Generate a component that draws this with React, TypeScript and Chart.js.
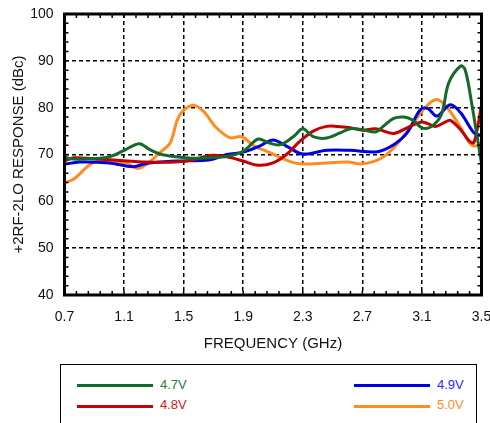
import React, { useEffect, useRef } from "react";
import { Chart, registerables } from "chart.js";

Chart.register(...registerables);

// ---- data ----
const X_TICKS = [0.7, 1.1, 1.5, 1.9, 2.3, 2.7, 3.1, 3.5];
const Y_TICKS = [40, 50, 60, 70, 80, 90, 100];

const FREQ_47 = [0.70, 0.73, 0.89, 1.00, 1.09, 1.20, 1.27, 1.34, 1.45, 1.56, 1.68, 1.79, 1.90, 2.00, 2.07, 2.15, 2.24, 2.30, 2.37, 2.46, 2.55, 2.62, 2.70, 2.79, 2.84, 2.91, 2.98, 3.04, 3.10, 3.16, 3.23, 3.28, 3.36, 3.39, 3.43, 3.50];
const VAL_47 = [69.8, 69.1, 69.1, 69.5, 70.7, 72.3, 71.1, 70.1, 69.5, 69.2, 69.3, 69.6, 70.7, 73.3, 72.5, 72.1, 73.9, 75.5, 73.8, 73.5, 74.6, 75.5, 75.3, 74.8, 76.0, 77.7, 78.0, 77.3, 75.7, 75.9, 78.5, 85.3, 88.9, 88.1, 81.7, 68.0];

const FREQ_48 = [0.70, 0.76, 0.89, 1.12, 1.23, 1.45, 1.56, 1.68, 1.79, 1.90, 2.00, 2.10, 2.19, 2.28, 2.37, 2.46, 2.53, 2.62, 2.70, 2.79, 2.91, 3.00, 3.09, 3.14, 3.19, 3.25, 3.29, 3.36, 3.42, 3.45, 3.50];
const VAL_48 = [68.6, 69.3, 69.1, 68.6, 68.4, 68.4, 68.8, 69.8, 69.5, 68.6, 67.7, 68.2, 70.0, 72.8, 75.0, 76.0, 76.0, 75.7, 75.2, 75.5, 74.5, 75.7, 76.9, 76.6, 76.0, 76.8, 77.3, 75.3, 72.8, 72.6, 80.5];

const FREQ_49 = [0.70, 0.80, 1.00, 1.16, 1.25, 1.45, 1.68, 1.79, 1.90, 2.01, 2.10, 2.19, 2.30, 2.46, 2.62, 2.80, 2.91, 3.00, 3.09, 3.14, 3.20, 3.29, 3.36, 3.45, 3.50];
const VAL_49 = [67.9, 68.4, 68.2, 67.4, 68.1, 68.6, 68.9, 70.0, 70.5, 71.8, 73.1, 71.8, 70.1, 70.9, 70.9, 70.6, 72.1, 74.6, 79.6, 79.8, 78.2, 80.6, 78.9, 74.6, 74.1];

const FREQ_50 = [0.70, 0.76, 0.89, 1.00, 1.12, 1.19, 1.25, 1.34, 1.41, 1.47, 1.56, 1.63, 1.72, 1.81, 1.89, 1.97, 2.08, 2.19, 2.28, 2.46, 2.60, 2.70, 2.82, 2.91, 3.02, 3.11, 3.19, 3.25, 3.34, 3.42, 3.46, 3.50];
const VAL_50 = [64.0, 64.7, 68.2, 68.6, 68.1, 67.0, 67.9, 70.4, 72.5, 78.2, 80.5, 79.3, 75.7, 73.6, 73.8, 71.9, 70.4, 68.8, 68.0, 68.2, 68.4, 68.0, 69.1, 71.4, 75.7, 79.6, 81.7, 80.7, 76.8, 72.5, 71.8, 72.5];

const SERIES_LABELS = ["4.7V", "4.8V", "4.9V", "5.0V"];
const SERIES_COLORS = ["#146a28", "#c40000", "#0000e6", "#ff8c1e"];
const TEXT_COLORS = ["#2a7a3c", "#d42020", "#2a2aff", "#ff8c1e"];
const SERIES_FREQ = [FREQ_47, FREQ_48, FREQ_49, FREQ_50];
const SERIES_VAL = [VAL_47, VAL_48, VAL_49, VAL_50];

const FONT = "'Liberation Sans', Arial, Helvetica, sans-serif";

const framePlugin = {
  id: "frame",
  afterDraw(chart: any) {
    const { ctx, chartArea, scales } = chart;
    const { left, right, top, bottom } = chartArea;
    ctx.save();
    ctx.strokeStyle = "#000";
    // minor ticks
    ctx.lineWidth = 1.5;
    const xs = scales.x;
    const ys = scales.y;
    ctx.beginPath();
    for (let i = 0; i <= 35; i++) {
      const f = 0.7 + i * 0.08;
      const px = xs.getPixelForValue(f);
      ctx.moveTo(px, bottom);
      ctx.lineTo(px, bottom - 4);
      ctx.moveTo(px, top);
      ctx.lineTo(px, top + 4);
    }
    for (let i = 0; i <= 30; i++) {
      const v = 40 + i * 2;
      const py = ys.getPixelForValue(v);
      ctx.moveTo(left, py);
      ctx.lineTo(left + 4, py);
      ctx.moveTo(right, py);
      ctx.lineTo(right - 4, py);
    }
    ctx.stroke();
    // frame
    ctx.lineWidth = 3;
    ctx.strokeRect(left, top, right - left, bottom - top);
    ctx.restore();
  },
};

export default function App() {
  const ref = useRef<HTMLCanvasElement | null>(null);

  useEffect(() => {
    if (!ref.current) return;
    const datasets = SERIES_LABELS.map((label, i) => ({
      label,
      data: SERIES_FREQ[i].map((f, j) => ({ x: f, y: SERIES_VAL[i][j] })),
      borderColor: SERIES_COLORS[i],
      backgroundColor: SERIES_COLORS[i],
      borderWidth: 3,
      pointRadius: 0,
      tension: 0.35,
      fill: false,
    }));
    const chart = new Chart(ref.current, {
      type: "line",
      data: { datasets },
      plugins: [framePlugin],
      options: {
        animation: false,
        responsive: false,
        devicePixelRatio: 1,
        layout: { padding: { top: 14, right: 18.5, bottom: 0, left: 0 } },
        plugins: {
          legend: { display: false },
          tooltip: { enabled: false },
        },
        scales: {
          x: {
            type: "linear",
            min: 0.7,
            max: 3.5,
            afterBuildTicks: (scale: any) => {
              scale.ticks = X_TICKS.map((v) => ({ value: v }));
            },
            afterFit: (scale: any) => {
              scale.height = 65;
              scale.paddingLeft = 0;
              scale.paddingRight = 0;
            },
            grid: {
              color: "#000",
              lineWidth: 1.5,
              drawTicks: false,
            },
            border: { display: false, dash: [4, 3] },
            ticks: {
              color: "#111",
              padding: 14,
              font: { family: FONT, size: 14 },
              callback: (v: any) => Number(v).toFixed(1),
            },
            title: {
              display: true,
              text: "FREQUENCY (GHz)",
              color: "#111",
              font: { family: FONT, size: 15 },
              padding: { top: 0, bottom: 7 },
            },
          },
          y: {
            type: "linear",
            min: 40,
            max: 100,
            afterBuildTicks: (scale: any) => {
              scale.ticks = Y_TICKS.map((v) => ({ value: v }));
            },
            afterFit: (scale: any) => {
              scale.width = 64.5;
              scale.paddingTop = 0;
              scale.paddingBottom = 0;
            },
            grid: {
              color: "#000",
              lineWidth: 1.5,
              drawTicks: false,
            },
            border: { display: false, dash: [4, 3] },
            ticks: {
              color: "#111",
              padding: 11,
              font: { family: FONT, size: 14 },
            },
            title: {
              display: true,
              text: "+2RF-2LO RESPONSE (dBc)",
              color: "#111",
              font: { family: FONT, size: 15 },
              padding: { top: 10, bottom: 0 },
            },
          },
        },
      },
    });
    return () => chart.destroy();
  }, []);

  return (
    <div
      style={{
        position: "fixed",
        left: 0,
        top: 0,
        width: 490,
        height: 423,
        overflow: "hidden",
        background: "#fff",
        fontFamily: FONT,
      }}
    >
      <canvas ref={ref} width={500} height={360} style={{ display: "block", width: 500, height: 360 }} />
      <div
        style={{
          position: "absolute",
          left: 60,
          top: 364,
          width: 417,
          height: 90,
          border: "1.5px solid #000",
          boxSizing: "border-box",
        }}
      />
      {SERIES_LABELS.map((label, i) => {
        const col = i < 2 ? 0 : 1;
        const row = i % 2;
        const lineX = col === 0 ? 77 : 354;
        const y = row === 0 ? 385.5 : 406;
        return (
          <React.Fragment key={label}>
            <div
              style={{
                position: "absolute",
                left: lineX,
                top: y - 1.5,
                width: 76,
                height: 3,
                background: SERIES_COLORS[i],
              }}
            />
            <div
              style={{
                position: "absolute",
                left: lineX + 83,
                top: y - 9,
                fontSize: 13,
                lineHeight: "16px",
                color: TEXT_COLORS[i],
                whiteSpace: "nowrap",
              }}
            >
              {label}
            </div>
          </React.Fragment>
        );
      })}
    </div>
  );
}
